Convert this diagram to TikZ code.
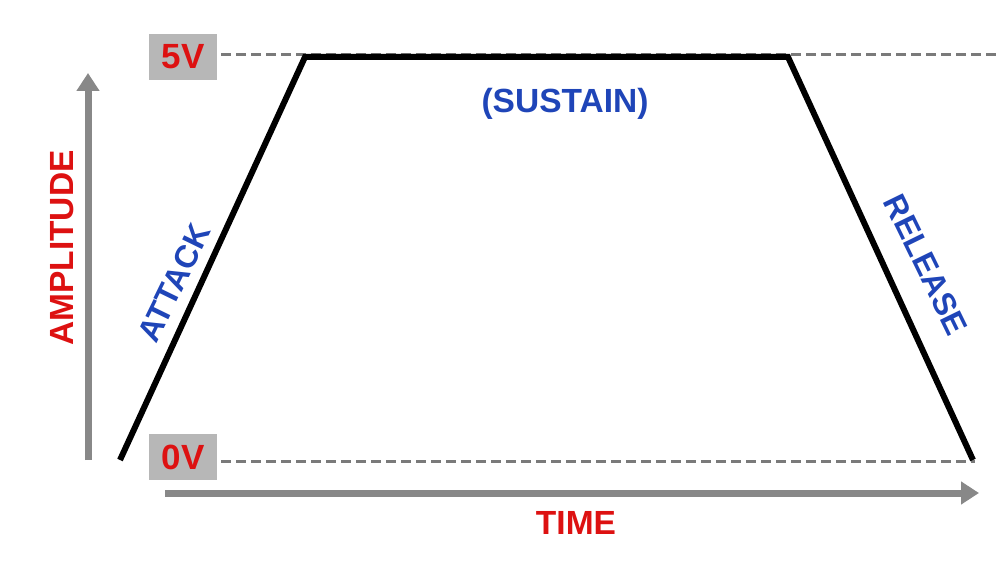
\documentclass[tikz,border=0pt]{standalone}
\usepackage{fontspec}
\setmainfont{Liberation Sans}
\usetikzlibrary{arrows.meta}
\definecolor{lblred}{HTML}{DD1111}
\definecolor{lblblue}{HTML}{1F45B8}
\definecolor{boxgray}{HTML}{B7B7B7}
\definecolor{axisgray}{HTML}{888888}
\definecolor{dashgray}{HTML}{7A7A7A}
\tikzset{
  levelbox/.style={fill=boxgray, minimum width=68pt, minimum height=46pt, inner sep=0pt,
    text=lblred, font=\fontsize{35}{40}\selectfont\bfseries},
  redlabel/.style={text=lblred, inner sep=0pt, font=\fontsize{33.5}{38}\selectfont\bfseries},
  bluelabel/.style={text=lblblue, inner sep=0pt, font=\fontsize{33.5}{38}\selectfont\bfseries},
  slopelabel/.style={text=lblblue, inner sep=0pt, font=\fontsize{32}{36}\selectfont\bfseries},
  axisarrow/.style={draw=axisgray, line width=7pt, -{Triangle[length=18pt,width=22pt]}},
  levelline/.style={draw=dashgray, line width=3pt, dash pattern=on 10pt off 5pt},
  envelope/.style={draw=black, line width=6pt, line join=miter}
}
\begin{document}
\begin{tikzpicture}[x=1pt,y=-1pt]
\useasboundingbox (0,0) rectangle (1001,567);
% level boxes
\node[levelbox] (v5) at (183,57) {5V};
\node[levelbox] (v0) at (183,457) {0V};
% dashed level lines
\coordinate (d5end) at (1001,55);
\coordinate (d0end) at (975,461);
\draw[levelline] (v5.east |- d5end) ++(4,0) -- (d5end);
\draw[levelline] (v0.east |- d0end) ++(4,0) -- (d0end);
% axes
\coordinate (yb) at (88,460);
\coordinate (yt) at (88,73);
\coordinate (xl) at (165,493);
\coordinate (xr) at (979,493);
\draw[axisarrow] (yb) -- (yt);
\draw[axisarrow] (xl) -- (xr);
% envelope
\coordinate (e0) at (120,460);
\coordinate (e1) at (305,57);
\coordinate (e2) at (788,57);
\coordinate (e3) at (973,460);
\draw[envelope] (e0) -- (e1) -- (e2) -- (e3);
% labels
\node[redlabel, rotate=90] (amp) at (62,248) {AMPLITUDE};
\node[redlabel] (time) at (576,523) {TIME};
\node[bluelabel] (sus) at (565,104) {(SUSTAIN)};
\node[slopelabel, rotate=64] (att) at (174,283) {ATTACK};
\node[slopelabel, rotate=-64] (rel) at (926,265) {RELEASE};
\end{tikzpicture}
\end{document}
